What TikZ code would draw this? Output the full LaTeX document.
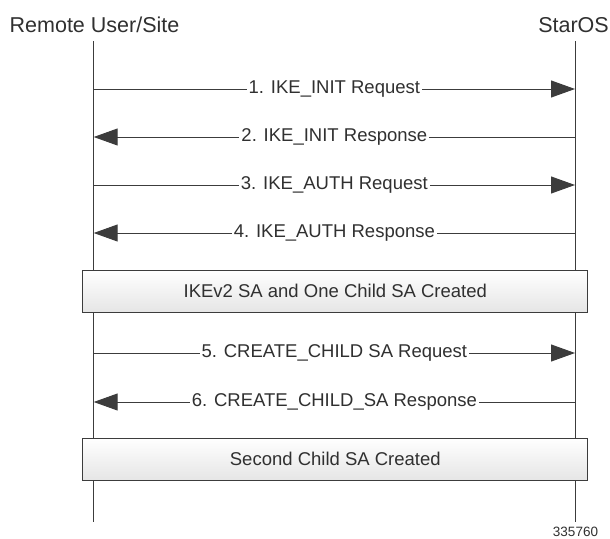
\documentclass[tikz,border=0pt]{standalone}
\usepackage{xcolor}
\usepackage{tikz}
\usepackage{fontspec}
\setmainfont{Liberation Sans}
\usetikzlibrary{arrows.meta, shapes, positioning}

\definecolor{linegray}{HTML}{3C3C3C}
\definecolor{textgray}{HTML}{303030}

\tikzset{
  lifeline/.style={draw=linegray, line width=1pt},
  msg/.style={draw=linegray, line width=1pt, -{Triangle[length=24pt,width=17pt]}},
  msglabel/.style={fill=white, inner xsep=2pt, inner ysep=1pt, text=textgray,
    font=\fontsize{18.5}{20}\selectfont},
  statebox/.style={draw=linegray, line width=1pt, minimum width=505pt, minimum height=42pt,
    top color=white, bottom color=black!10, text=textgray,
    font=\fontsize{18.5}{20}\selectfont},
  header/.style={anchor=base, inner sep=0pt, text=textgray, font=\fontsize{21.5}{24}\selectfont}
}

\begin{document}
\begin{tikzpicture}[x=1pt, y=-1pt]
        \useasboundingbox (0,0) rectangle (610,538);
        % the two parties
        \node[header] (remote) at (94.5,32) {Remote User/Site};
        \node[header] (staros) at (573.5,32) {StarOS};
        \coordinate (rtop) at (93.7,41);
        \coordinate (rbot) at (93.7,522);
        \coordinate (stop) at (575,41);
        \coordinate (sbot) at (575,522);
        \path[lifeline] (rtop) -- (rbot);
        \path[lifeline] (stop) -- (sbot);
        % message end points
        \begin{scope}
          \coordinate (r1) at (93.7,89);   \coordinate (s1) at (575,89);
          \coordinate (r2) at (93.7,137);  \coordinate (s2) at (575,137);
          \coordinate (r3) at (93.7,185);  \coordinate (s3) at (575,185);
          \coordinate (r4) at (93.7,233);  \coordinate (s4) at (575,233);
          \coordinate (r5) at (93.7,353);  \coordinate (s5) at (575,353);
          \coordinate (r6) at (93.7,402);  \coordinate (s6) at (575,402);
        \end{scope}
        \begin{scope}[every node/.style={msglabel}]
          \path[msg] (r1) -- node {1. IKE\_INIT Request} (s1);
          \path[msg] (s2) -- node {2. IKE\_INIT Response} (r2);
          \path[msg] (r3) -- node {3. IKE\_AUTH Request} (s3);
          \path[msg] (s4) -- node {4. IKE\_AUTH Response} (r4);
          \path[msg] (r5) -- node {5. CREATE\_CHILD SA Request} (s5);
          \path[msg] (s6) -- node {6. CREATE\_CHILD\_SA Response} (r6);
        \end{scope}
        % created states
        \node[statebox] (ikesa) at (335.3,291) {IKEv2 SA and One Child SA Created};
        \node[statebox] (childsa) at (335.3,459) {Second Child SA Created};
        \node[anchor=base, inner sep=0pt, text=textgray, font=\fontsize{13.5}{15}\selectfont]
          (figno) at (575.5,536) {335760};
      \end{tikzpicture}
\end{document}
